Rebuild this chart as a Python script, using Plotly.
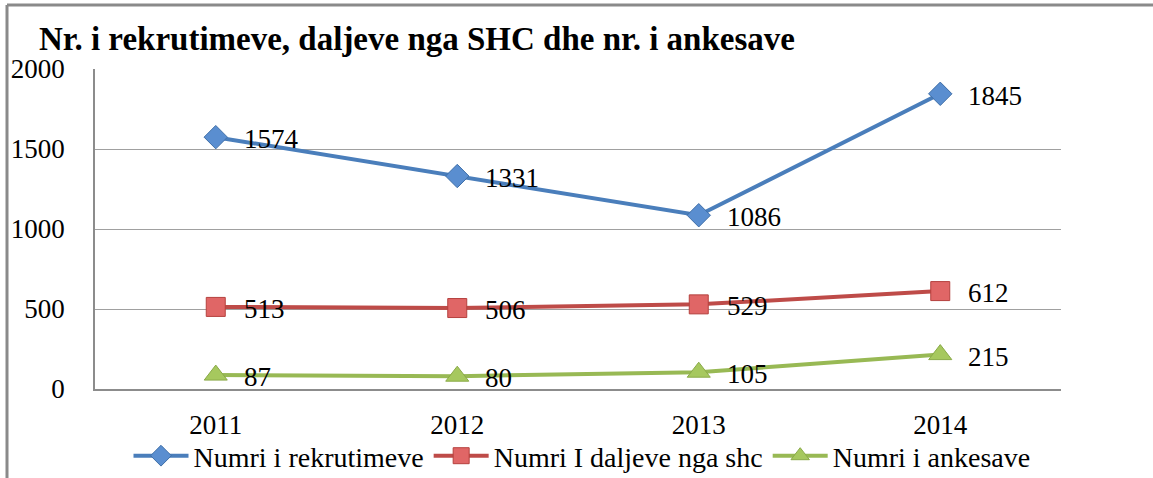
import plotly.graph_objects as go

years = ["2011", "2012", "2013", "2014"]
rekrutime = [1574, 1331, 1086, 1845]
daljet = [513, 506, 529, 612]
ankesat = [87, 80, 105, 215]
series_names = ["Numri i rekrutimeve", "Numri I daljeve nga shc", "Numri i ankesave"]
title_text = "Nr. i rekrutimeve, daljeve nga SHC dhe nr. i ankesave"

FONT = "Liberation Serif"
W, H = 1153, 478
ML, MR, MT, MB = 95, 92, 69, 89

fig = go.Figure()

styles = [
    dict(color="#4A7EBB", symbol="diamond", size=18, fill="#5A8ED0", edge="#3F6FA8"),
    dict(color="#BE4B48", symbol="square", size=19, fill="#E06666", edge="#B5413E"),
    dict(color="#98B954", symbol="triangle-up", size=20, fill="#A6C85E", edge="#8AAA48"),
]
xpos = list(range(len(years)))
for vals, name, st in zip([rekrutime, daljet, ankesat], series_names, styles):
    fig.add_trace(go.Scatter(
        x=xpos, y=vals, name=name, mode="lines+markers",
        line=dict(color=st["color"], width=4),
        marker=dict(symbol=st["symbol"], size=st["size"], color=st["fill"],
                    line=dict(color=st["edge"], width=1)),
    ))
    for xv, yv in zip(xpos, vals):
        fig.add_annotation(x=xv, y=yv, xref="x", yref="y", text=str(yv), showarrow=False,
                           xanchor="left", yanchor="middle", xshift=26, yshift=-2,
                           font=dict(family=FONT, size=27, color="#000000"))

pw = W - ML - MR
ph = H - MT - MB
def px_x(px):
    return (px - ML) / pw
def px_y(py):
    return (H - MB - py) / ph

fig.update_layout(
    width=W, height=H,
    margin=dict(l=ML, r=MR, t=MT, b=MB, autoexpand=False),
    paper_bgcolor="white", plot_bgcolor="white",
    title=dict(text="<b>" + title_text + "</b>", x=39 / W, xanchor="left", xref="container",
               y=1 - 38 / H, yanchor="middle", yref="container",
               font=dict(family=FONT, size=33, color="#000000")),
    font=dict(family=FONT, color="#000000"),
    showlegend=True,
    legend=dict(orientation="h", x=px_x(582), xanchor="center", xref="paper",
                y=px_y(456), yanchor="middle", yref="paper",
                font=dict(family=FONT, size=28, color="#000000"),
                itemwidth=55, tracegroupgap=0, bgcolor="rgba(0,0,0,0)"),
    xaxis=dict(range=[-0.5, 3.5], tickvals=xpos, ticktext=years, showgrid=False, zeroline=False,
               showline=True, linecolor="#8C8C8C", linewidth=1.5,
               ticks="", tickfont=dict(family=FONT, size=27), ticklabelstandoff=11),
    yaxis=dict(range=[0, 2000], dtick=500, tick0=0, showgrid=True, gridcolor="#A0A0A0", gridwidth=1.2,
               showline=True, linecolor="#8C8C8C", linewidth=1.5, zeroline=False,
               ticks="", tickfont=dict(family=FONT, size=27), ticklabelstandoff=23),
)

border = dict(color="#8A8A8A", width=3)
fig.add_shape(type="line", xref="paper", yref="paper", x0=px_x(7), x1=px_x(W + 5),
              y0=px_y(5), y1=px_y(5), line=border)
fig.add_shape(type="line", xref="paper", yref="paper", x0=px_x(7), x1=px_x(7),
              y0=px_y(5), y1=px_y(H + 5), line=border)

fig.write_html("out.html", config={"displayModeBar": False},
               post_script="document.body.style.margin='0px';")
